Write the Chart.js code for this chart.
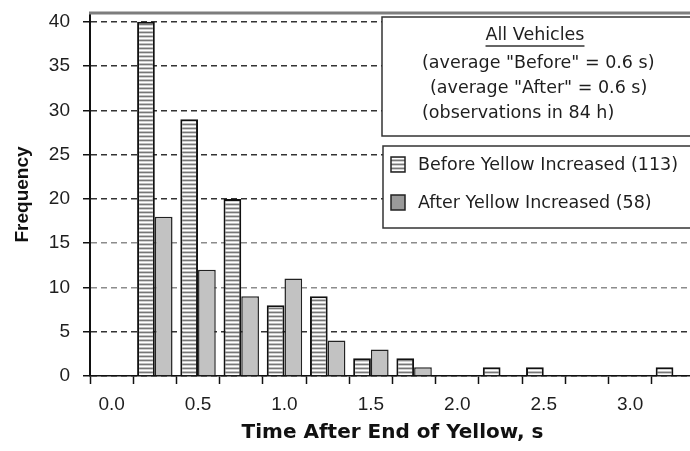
<!DOCTYPE html>
<html>
<head>
<meta charset="utf-8">
<script src="https://cdn.jsdelivr.net/npm/chart.js@4.4.1/dist/chart.umd.min.js"></script>
<style>
  html, body { margin: 0; padding: 0; background: #fff; overflow: hidden; }
  #wrap { width: 700px; height: 451px; }
</style>
</head>
<body>
<div id="wrap"><canvas id="chart" width="700" height="451"></canvas></div>
<script>
// bins of 0.25 s (label = bin start)
const timeBins = [0.0, 0.25, 0.5, 0.75, 1.0, 1.25, 1.5, 1.75, 2.0, 2.25, 2.5, 2.75, 3.0, 3.25];
const beforeCounts = [0, 40, 29, 20, 8, 9, 2, 2, 0, 1, 1, 0, 0, 1];
const afterCounts = [0, 18, 12, 9, 11, 4, 3, 1, 0, 0, 0, 0, 0, 0];
const yTicks = [0, 5, 10, 15, 20, 25, 30, 35, 40];

const seriesNames = ['Before Yellow Increased (113)', 'After Yellow Increased (58)'];
const noteTitle = 'All Vehicles';
const noteLines = ['(average "Before" = 0.6 s)', '(average "After" = 0.6 s)', '(observations in 84 h)'];

const FONT = '"Liberation Sans", Arial, sans-serif';
const WIDE = '"DejaVu Sans", sans-serif';
const TEXT = '#1e1e1e';

function stripePattern() {
    const c = document.createElement('canvas');
    c.width = 4; c.height = 4;
    const g = c.getContext('2d');
    const rows = ['#777', '#d2d2d2', '#fff', '#c0c0c0'];
    rows.forEach((col, i) => { g.fillStyle = col; g.fillRect(0, i, 4, 1); });
    return g.createPattern(c, 'repeat');
}

const ctx = document.getElementById('chart').getContext('2d');
const beforeFill = stripePattern();
const afterFill = '#c2c2c2';

// note box, legend box and the grey top frame line
const overlay = {
    id: 'overlay',
    afterDraw(chart) {
        const g = chart.ctx;
        const a = chart.chartArea;
        g.save();
        g.strokeStyle = '#7d7d7d';
        g.lineWidth = 3;
        g.beginPath(); g.moveTo(a.left - 1, a.top); g.lineTo(a.right + 5, a.top); g.stroke();

        // note box
        g.fillStyle = '#fff';
        g.strokeStyle = '#333';
        g.lineWidth = 1.5;
        g.fillRect(382, 17, 320, 119);
        g.strokeRect(382, 17, 320, 119);
        g.fillStyle = TEXT;
        g.font = '17.5px ' + WIDE;
        g.textBaseline = 'middle';
        g.textAlign = 'center';
        g.fillText(noteTitle, 535, 35);
        const tw = g.measureText(noteTitle).width;
        g.strokeStyle = '#333';
        g.lineWidth = 1.3;
        g.beginPath(); g.moveTo(535 - tw / 2, 46); g.lineTo(535 + tw / 2, 46); g.stroke();
        g.textAlign = 'left';
        const noteX = [422, 430, 422];
        const noteY = [63, 88, 113];
        noteLines.forEach((s, i) => g.fillText(s, noteX[i], noteY[i]));

        // legend box
        g.fillStyle = '#fff';
        g.strokeStyle = '#333';
        g.lineWidth = 1.5;
        g.fillRect(383, 146, 320, 82);
        g.strokeRect(383, 146, 320, 82);
        const rowsY = [165, 203];
        const fills = [beforeFill, '#9a9a9a'];
        seriesNames.forEach((name, i) => {
            g.fillStyle = fills[i];
            g.fillRect(391, rowsY[i] - 8, 14, 15);
            g.strokeStyle = '#222';
            g.lineWidth = 1.5;
            g.strokeRect(391, rowsY[i] - 8, 14, 15);
            g.fillStyle = TEXT;
            g.fillText(name, 418, rowsY[i]);
        });
        g.restore();
    }
};

new Chart(ctx, {
    type: 'bar',
    data: {
        labels: timeBins,
        datasets: [
            {
                label: seriesNames[0],
                data: beforeCounts,
                backgroundColor: beforeFill,
                borderColor: '#111',
                borderWidth: 2,
                barPercentage: 1.0,
                categoryPercentage: 0.82
            },
            {
                label: seriesNames[1],
                data: afterCounts,
                backgroundColor: afterFill,
                borderColor: '#222',
                borderWidth: 1.5,
                barPercentage: 1.0,
                categoryPercentage: 0.82
            }
        ]
    },
    options: {
        responsive: false,
        animation: false,
        devicePixelRatio: 1,
        layout: { padding: { top: 13, right: 5, left: 0, bottom: 0 } },
        plugins: {
            legend: { display: false },
            tooltip: { enabled: false }
        },
        scales: {
            x: {
                offset: true,
                grid: { display: true, drawOnChartArea: false, drawTicks: true, tickLength: 8, tickColor: '#111', tickWidth: 1.5, offset: true },
                border: { display: true, color: '#111', width: 1.5 },
                ticks: {
                    autoSkip: false,
                    maxRotation: 0,
                    padding: 9,
                    color: TEXT,
                    font: { family: FONT, size: 19 },
                    callback: (v, i) => i % 2 === 0 ? timeBins[i].toFixed(1) : ''
                },
                title: {
                    display: true,
                    text: 'Time After End of Yellow, s',
                    color: '#111',
                    font: { family: WIDE, size: 20, weight: 'bold' },
                    padding: { top: 0, bottom: 6 }
                },
                afterFit: s => { s.height = 75; s.paddingLeft = 0; s.paddingRight = 0; }
            },
            y: {
                min: 0,
                max: 41,
                grid: {
                    // the 10 and 15 lines print lighter in the original
                    color: c => (c.tick && (c.tick.value === 10 || c.tick.value === 15)) ? '#8c8c8c' : '#333',
                    lineWidth: 1.5, tickLength: 7, tickColor: '#111', tickWidth: 1.5, tickBorderDash: []
                },
                border: { display: true, color: '#111', width: 2, dash: [6, 4] },
                ticks: {
                    padding: 13,
                    color: TEXT,
                    font: { family: FONT, size: 19 }
                },
                afterBuildTicks: s => { s.ticks = yTicks.map(v => ({ value: v })); },
                title: {
                    display: true,
                    text: 'Frequency',
                    color: '#111',
                    font: { family: FONT, size: 19, weight: 'bold' },
                    padding: { top: 11, bottom: 0 }
                },
                afterFit: s => { s.width = 90; s.paddingTop = 0; s.paddingBottom = 0; }
            }
        }
    },
    plugins: [overlay]
});
</script>
</body>
</html>
